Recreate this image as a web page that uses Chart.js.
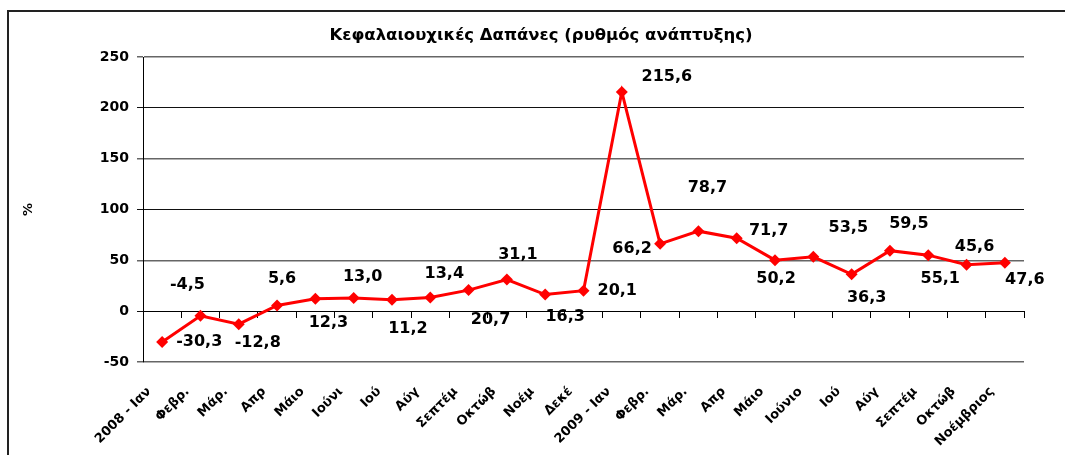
<!DOCTYPE html>
<html>
<head>
<meta charset="utf-8">
<script src="https://cdn.jsdelivr.net/npm/chart.js@4.4.1/dist/chart.umd.min.js"></script>
<style>
html,body{margin:0;padding:0;background:#fff;}
#wrap{width:1065px;height:455px;position:relative;}
</style>
</head>
<body>
<div id="wrap"><canvas id="c" width="1065" height="455"></canvas></div>
<script>
// ---- data ----
const categories = ["2008 - Ιαν","Φεβρ.","Μάρ.","Απρ","Μάιο","Ιούνι","Ιού","Αύγ","Σεπτέμ","Οκτώβ","Νοέμ","Δεκέ",
                    "2009 - Ιαν","Φεβρ.","Μάρ.","Απρ","Μάιο","Ιούνιο","Ιού","Αύγ","Σεπτέμ","Οκτώβ","Νοέμβριος"];
const growth = [-30.3,-4.5,-12.8,5.6,12.3,13.0,11.2,13.4,20.7,31.1,16.3,20.1,
                215.6,66.2,78.7,71.7,50.2,53.5,36.3,59.5,55.1,45.6,47.6];
const yTicks = [-50,0,50,100,150,200,250];
const chartTitle = "Κεφαλαιουχικές Δαπάνες (ρυθμός ανάπτυξης)";
const yTitle = "%";

// ---- label placement (style, px offsets from each point) ----
const labelOffsets = [[47,0],[-13,-31],[19,19],[5,-27],[13,24],[9,-21],[16,29],[14,-24],[22,30],[11,-25],[20,22],[40,0],
                      [45,-15],[-28,5],[9,-43],[32,-7],[1,19],[35,-29],[15,24],[19,-27],[12,24],[8,-18],[20,17]];

const fmt = v => v.toFixed(1).replace('.', ',');

const framePlugin = {
  id: 'frame',
  beforeDraw(chart) {
    const ctx = chart.ctx;
    ctx.save();
    ctx.fillStyle = '#fff';
    ctx.fillRect(0, 0, chart.width, chart.height);
    ctx.strokeStyle = '#222';
    ctx.lineWidth = 2;
    ctx.beginPath();
    ctx.moveTo(8, 460);
    ctx.lineTo(8, 11);
    ctx.lineTo(1070, 11);
    ctx.stroke();
    // chart title
    ctx.fillStyle = '#000';
    ctx.font = 'bold 16.5px "DejaVu Sans"';
    ctx.textAlign = 'center';
    ctx.textBaseline = 'middle';
    ctx.fillText(chartTitle, 541, 36);
    ctx.restore();
  }
};

const labelPlugin = {
  id: 'pointLabels',
  afterDatasetsDraw(chart) {
    const ctx = chart.ctx;
    const meta = chart.getDatasetMeta(0);
    ctx.save();
    ctx.font = 'bold 16px "DejaVu Sans"';
    ctx.fillStyle = '#000';
    ctx.textBaseline = 'middle';
    meta.data.forEach((pt, i) => {
      const o = labelOffsets[i];
      const txt = fmt(growth[i]);
      let x = pt.x + o[0];
      if (o[1] === 0 && o[0] > 0) {
        ctx.textAlign = 'left';
        x = pt.x + 14;
      } else {
        ctx.textAlign = 'center';
      }
      ctx.fillText(txt, x, pt.y + o[1]);
    });
    ctx.restore();
  }
};

new Chart(document.getElementById('c'), {
  type: 'line',
  data: {
    labels: categories,
    datasets: [{
      data: growth,
      borderColor: '#ff0000',
      backgroundColor: '#ff0000',
      borderWidth: 3,
      pointStyle: 'rectRot',
      pointRadius: 6,
      pointBorderWidth: 0,
      tension: 0,
      xAxisID: 'x',
      yAxisID: 'y'
    }]
  },
  options: {
    responsive: false,
    animation: false,
    devicePixelRatio: 1,
    layout: { padding: { left: 21, right: 41, top: 57, bottom: 0 } },
    plugins: {
      legend: { display: false },
      tooltip: { enabled: false },
      title: { display: false }
    },
    scales: {
      x: {
        type: 'category',
        position: 'bottom',
        offset: true,
        grid: { display: false },
        border: { display: false },
        ticks: {
          color: '#000',
          font: { family: '"DejaVu Sans"', weight: 'bold', size: 13 },
          minRotation: 45, maxRotation: 45,
          autoSkip: false,
          padding: 14,
          labelOffset: -13
        },
        afterFit(s) { s.height = 93; }
      },
      x0: {
        type: 'category',
        labels: categories,
        position: { y: 0 },
        offset: true,
        grid: { offset: true, drawOnChartArea: false, drawTicks: true, tickLength: 6, color: '#000', lineWidth: 1 },
        border: { display: true, color: '#000', width: 1 },
        ticks: { display: false }
      },
      y: {
        min: -50, max: 250,
        afterBuildTicks(s) { s.ticks = yTicks.map(v => ({ value: v })); },
        grid: {
          color: (c) => (c.tick && c.tick.value % 100 === 0) ? '#111' : '#666',
          lineWidth: (c) => (c.tick && c.tick.value % 100 === 0) ? 1 : 1.5,
          tickLength: 6, drawTicks: true
        },
        border: { display: true, color: '#000', width: 1 },
        ticks: {
          color: '#000',
          font: { family: '"DejaVu Sans"', weight: 'bold', size: 14 },
          padding: 8
        },
        title: {
          display: true,
          text: yTitle,
          color: '#000',
          font: { family: '"DejaVu Sans"', weight: 'bold', size: 13 },
          padding: { top: 0, bottom: 0 }
        },
        afterFit(s) { s.width = 122; }
      }
    }
  },
  plugins: [framePlugin, labelPlugin]
});
</script>
</body>
</html>
